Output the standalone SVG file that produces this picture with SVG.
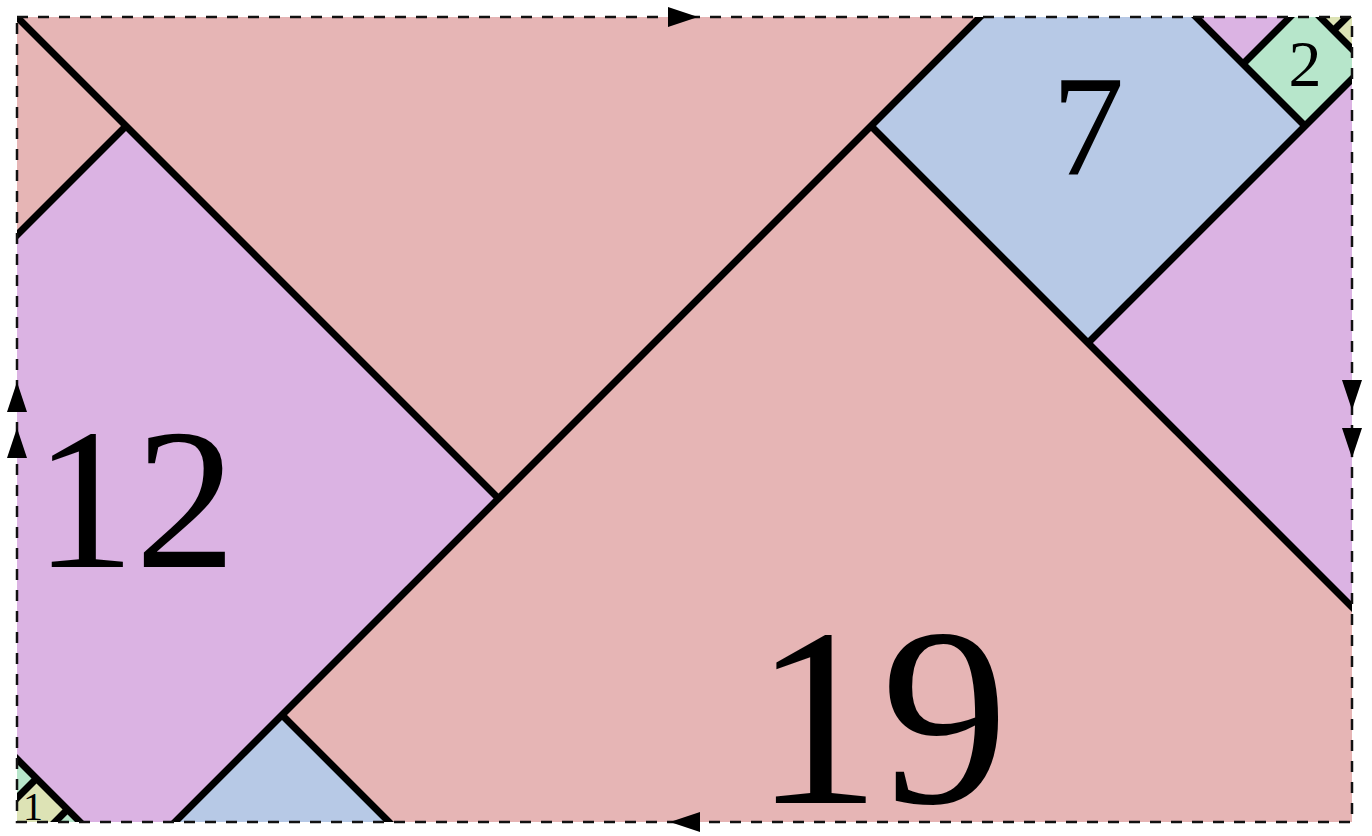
<svg xmlns="http://www.w3.org/2000/svg" width="1372" height="836" viewBox="0 0 1372 836">
<style>
.pink{fill:#e6b5b5}
.purple{fill:#dbb3e3}
.blue{fill:#b7c9e6}
.green{fill:#b7e6cb}
.yellow{fill:#dde3b5}
.edge{stroke:#000;stroke-width:7;fill:none;stroke-linecap:butt}
.border{stroke:#111;stroke-width:2.5;fill:none;stroke-dasharray:11 10}
.arrow{fill:#000}
.lbl{font-family:"Liberation Serif","Times New Roman",serif;fill:#000;text-anchor:middle}
</style>
<defs>
<clipPath id="frame"><rect x="17" y="17" width="1335" height="805"/></clipPath>
</defs>
<rect width="1372" height="836" fill="#fff"/>
<g id="sq19">
<polygon class="pink" points="871,126 1352,607 1352,822 389,822 282,715"/>
<polygon class="pink" points="17,17 980,17 498.5,498.5 126,126 17,235"/>
</g>
<g id="sq12">
<polygon class="purple" points="126,126 498.5,498.5 175,822 80,822 17,759 17,235"/>
<polygon class="purple" points="1088,343 1352,79 1352,607"/>
<polygon class="purple" points="1196,17 1290,17 1243,64"/>
</g>
<g id="sq7">
<polygon class="blue" points="980,17 1196,17 1305,126 1088,343 871,126"/>
<polygon class="blue" points="282,715 389,822 175,822"/>
</g>
<g id="sq2">
<polygon class="green" points="1290,17 1320,17 1352,49 1352,79 1305,126 1243,64"/>
<polygon class="green" points="17,759 36.5,778.5 17,798"/>
<polygon class="green" points="67.5,809.5 55,822 80,822"/>
</g>
<g id="sq1">
<polygon class="yellow" points="1320,17 1352,17 1352,49"/>
<polygon class="yellow" points="17,798 36.5,778.5 67.5,809.5 55,822 17,822"/>
</g>
<g id="edges" clip-path="url(#frame)">
<line class="edge" x1="10" y1="10" x2="498.5" y2="498.5"/>
<line class="edge" x1="990" y1="7" x2="165" y2="832"/>
<line class="edge" x1="7" y1="245" x2="126" y2="126"/>
<line class="edge" x1="871" y1="126" x2="1362" y2="617"/>
<line class="edge" x1="1088" y1="343" x2="1362" y2="69"/>
<line class="edge" x1="1186" y1="7" x2="1305" y2="126"/>
<line class="edge" x1="1300" y1="7" x2="1243" y2="64"/>
<line class="edge" x1="1310" y1="7" x2="1362" y2="59"/>
<line class="edge" x1="1357" y1="7" x2="1333.5" y2="30.5"/>
<line class="edge" x1="282" y1="715" x2="399" y2="832"/>
<line class="edge" x1="7" y1="749" x2="90" y2="832"/>
<line class="edge" x1="7" y1="808" x2="36.5" y2="778.5"/>
<line class="edge" x1="67.5" y1="809.5" x2="45" y2="832"/>
</g>
<g id="connectors">
<rect class="border" x="17" y="17" width="1335" height="805"/>
<polygon class="arrow" points="668,7 698,17 668,27"/>
<polygon class="arrow" points="700,812 670,822 700,832"/>
<polygon class="arrow" points="17,382 7,412 27,412"/>
<polygon class="arrow" points="17,428 7,458 27,458"/>
<polygon class="arrow" points="1342,380 1362,380 1352,410"/>
<polygon class="arrow" points="1342,428 1362,428 1352,458"/>
</g>
<g id="labels">
<text class="lbl" x="881" y="803" font-size="255">19</text>
<text class="lbl" x="135" y="567" font-size="202">12</text>
<text class="lbl" x="1088" y="175" font-size="145">7</text>
<text class="lbl" x="1305" y="86" font-size="66">2</text>
<text class="lbl" x="33" y="820" font-size="40">1</text>
</g>
</svg>
